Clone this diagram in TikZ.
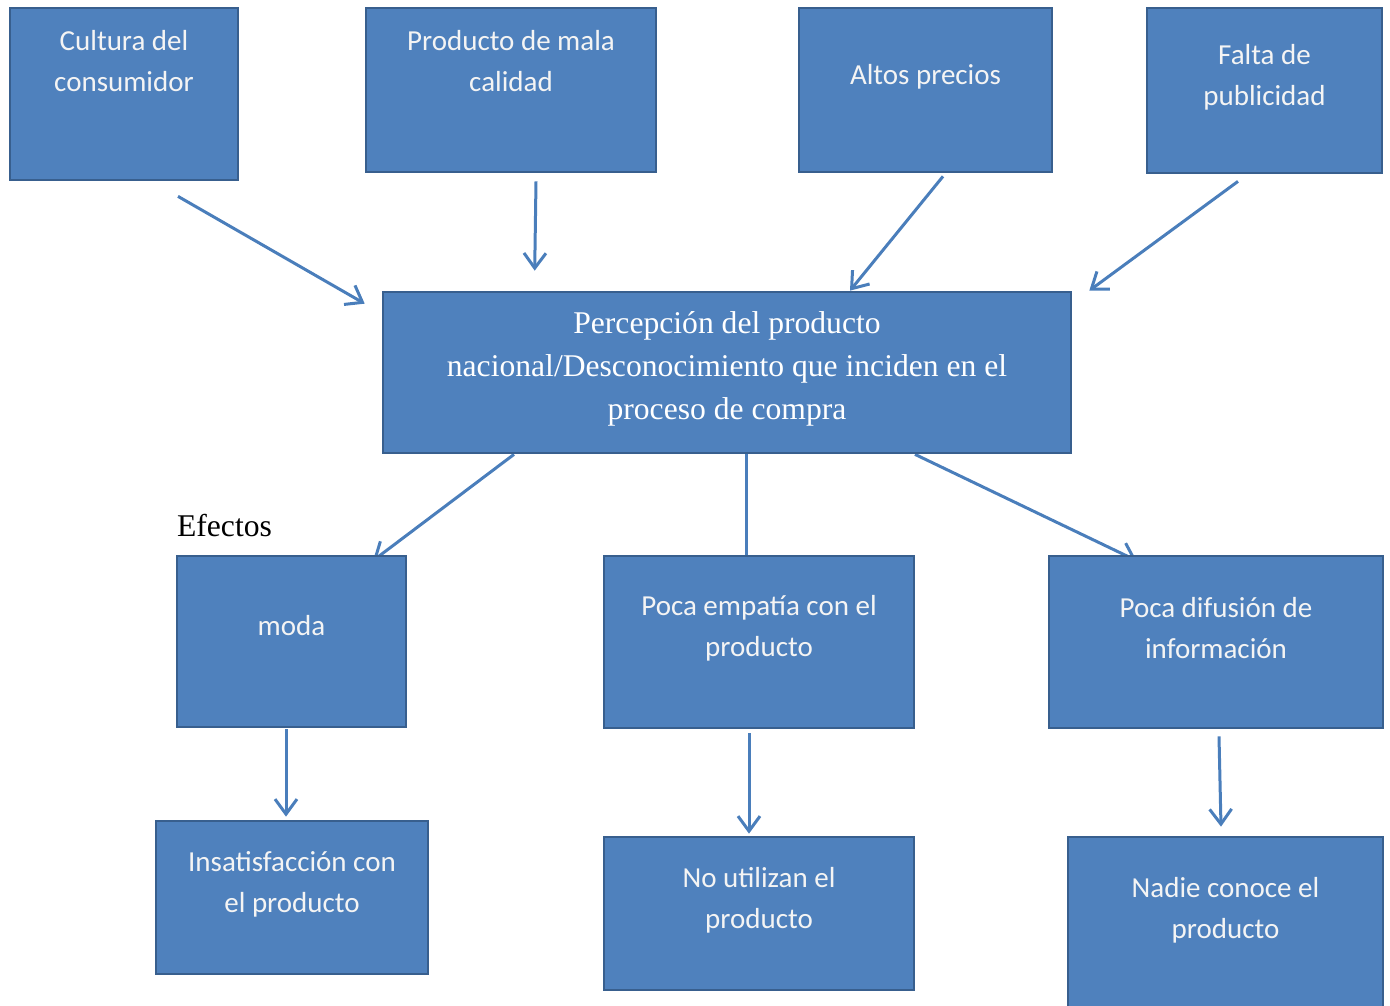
\documentclass[tikz,border=0pt]{standalone}
\usepackage{fontspec}
\setmainfont{Liberation Serif}
\newfontfamily\boxfont{Carlito}
\usetikzlibrary{arrows.meta,backgrounds}
\definecolor{boxfill}{HTML}{4F81BD}
\definecolor{boxline}{HTML}{385F8E}
\definecolor{arrline}{HTML}{4A7EBB}
\definecolor{boxtxt}{HTML}{F4F4F4}
\tikzset{
  box/.style={draw=boxline, fill=boxfill, line width=0.055cm, inner sep=0pt},
  boxtext/.style={text=boxtxt, align=center, font=\boxfont\fontsize{16.5}{23.3}\selectfont},
  midtext/.style={text=white, align=center, font=\fontsize{18}{24.4}\selectfont},
  arr/.style={draw=arrline, line width=0.06cm, -{Straight Barb[length=0.3cm,width=0.44cm]}},
  link/.style={draw=arrline, line width=0.06cm}
}
\begin{document}
\begin{tikzpicture}[x=0.02cm,y=-0.02cm]
            \useasboundingbox (0,0) rectangle (1390,1005);%

            % Drawing causes
            \node [box, minimum width=4.56cm, minimum height=3.44cm] (cult) at (124,94) {};%
            \node [boxtext] (cultT) at (124,61) {Cultura del\\consumidor};%
            \node [box, minimum width=5.8cm, minimum height=3.28cm] (mala) at (511,90) {};%
            \node [boxtext] (malaT) at (511,61) {Producto de mala\\calidad};%
            \node [box, minimum width=5.06cm, minimum height=3.28cm] (precios) at (925.5,90) {};%
            \node [boxtext] (preciosT) at (925.5,77) {Altos precios};%
            \node [box, minimum width=4.7cm, minimum height=3.3cm] (falta) at (1264.5,90.5) {};%
            \node [boxtext] (faltaT) at (1264.5,77.5) {Falta de\\publicidad};%

            % Drawing central problem
            \node [box, minimum width=13.76cm, minimum height=3.22cm] (central) at (727,372.5) {};%
            \node [midtext] (centralT) at (727,369) {Percepción del producto\\nacional/Desconocimiento que inciden en el\\proceso de compra};%

            % Marking label Efectos
            \node [font=\fontsize{18}{20}\selectfont] (efectos) at (224.5,526) {Efectos};%

            % Drawing effects
            \node [box, minimum width=4.58cm, minimum height=3.42cm] (moda) at (291.5,641.5) {};%
            \node [boxtext] (modaT) at (291.5,626) {moda};%
            \node [box, minimum width=6.2cm, minimum height=3.44cm] (empatia) at (759,642) {};%
            \node [boxtext] (empatiaT) at (759,628.5) {Poca empatía con el\\producto};%
            \node [box, minimum width=6.68cm, minimum height=3.44cm] (difusion) at (1216,642) {};%
            \node [boxtext] (difusionT) at (1216,628) {Poca difusión de\\información};%
            \node [box, minimum width=5.44cm, minimum height=3.06cm] (insat) at (292,897.5) {};%
            \node [boxtext] (insatT) at (292,884.5) {Insatisfacción con\\el producto};%
            \node [box, minimum width=6.2cm, minimum height=3.06cm] (noutil) at (759,913.5) {};%
            \node [boxtext] (noutilT) at (759,900.5) {No utilizan el\\producto};%
            \node [box, minimum width=6.3cm, minimum height=3.52cm] (nadie) at (1225.5,925) {};%
            \node [boxtext] (nadieT) at (1225.5,910.5) {Nadie conoce el\\producto};%

            \begin{scope}[on background layer]
            % Drawing arrows into central
            \draw [arr] ([shift={(54,15)}]cult.south) -- ([shift={(-17,13)}]central.north west);%
            \draw [arr] ([shift={(25,8)}]mala.south) -- ([shift={(153,-20)}]central.north west);%
            \draw [arr] ([shift={(17.5,3)}]precios.south) -- ([shift={(123,0)}]central.north);%
            \draw [arr] ([shift={(-26.5,7)}]falta.south) -- ([shift={(17,0)}]central.north east);%

            % Drawing arrows out of central
            \draw [arr] ([shift={(-213,0)}]central.south) -- ([shift={(81.5,6)}]moda.north);%
            \draw [link] ([shift={(19,0)}]central.south) -- ([shift={(-13,0)}]empatia.north);%
            \draw [arr] ([shift={(188,0)}]central.south) -- ([shift={(89,6)}]difusion.north west);%

            % Drawing arrows to last row
            \draw [arr] ([shift={(-5.5,1)}]moda.south) -- ([shift={(-6,-3)}]insat.north);%
            \draw [arr] ([shift={(-10,4)}]empatia.south) -- ([shift={(-10,-2)}]noutil.north);%
            \draw [arr] ([shift={(3,7)}]difusion.south) -- ([shift={(-4.5,-9)}]nadie.north);%
            \end{scope}
\end{tikzpicture}
\end{document}
